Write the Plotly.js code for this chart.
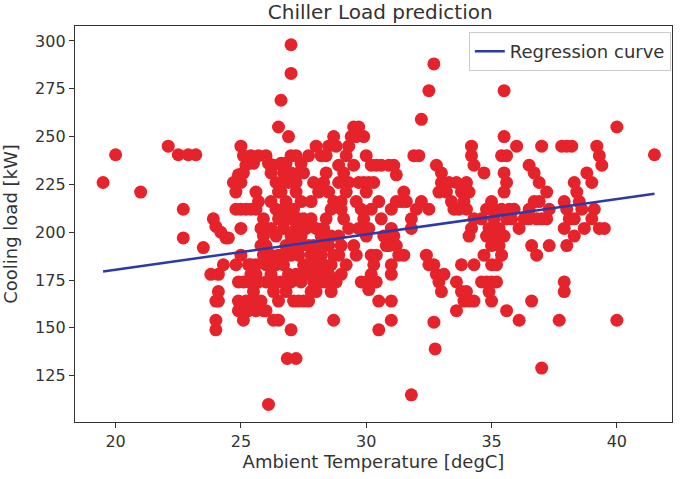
<!DOCTYPE html>
<html>
<head>
<meta charset="utf-8">
<script src="https://cdn.plot.ly/plotly-3.0.1.min.js"></script>
<style>
  html, body { margin: 0; padding: 0; background: #fff; }
  #chart { width: 685px; height: 479px; }
</style>
</head>
<body>
<div id="chart"></div>
<script>
// ambient temperature [degC] and cooling load [kW]
const tempX = [
  19.5, 20.0, 21.0, 22.1, 22.5, 22.9, 23.2, 22.7, 22.7, 23.5,
  23.9, 24.0, 24.2, 24.4, 23.8, 24.1, 24.3, 24.1, 24.0, 24.1, 24.0, 24.0, 24.5,
  25.0, 25.1, 24.9, 25.1, 24.7, 24.8, 25.0, 25.2, 24.8, 25.0, 25.2, 25.0, 24.8, 24.9, 25.1, 24.9, 25.2, 24.9, 25.1, 25.3, 25.0, 25.3, 25.3,
  25.4, 25.5, 25.7, 25.6, 25.7, 25.4, 25.6, 25.9, 25.8, 25.9, 25.6, 25.4, 25.7, 25.5, 25.8, 25.5, 25.6, 25.9, 26.0, 25.9, 25.8, 25.4, 25.6,
  26.0, 26.1, 26.2, 26.4, 26.3, 26.5, 26.2, 26.4, 26.5, 26.2, 26.4, 26.0, 26.2, 26.5, 26.1, 26.4, 26.2, 26.0, 26.4, 26.3, 26.5, 26.0, 26.3, 26.5, 26.1, 26.6, 26.5,
  26.6, 26.8, 27.0, 26.9, 27.0, 27.0, 26.7, 27.0, 26.6, 26.8, 26.7, 27.0, 26.9, 26.7, 27.0, 26.8, 26.6, 27.0, 26.7, 26.9, 26.6, 27.0, 26.8, 27.1, 27.0, 26.85, 27.2, 26.7, 26.9,
  27.2, 27.4, 27.3, 27.5, 27.2, 27.4, 27.1, 27.3, 27.5, 27.2, 27.4, 27.6, 27.2, 27.4, 27.3, 27.5, 27.2, 27.4, 27.6, 27.3, 27.5, 27.2,
  27.7, 27.8, 27.9, 28.1, 27.8, 28.0, 28.2, 27.7, 27.9, 28.1, 27.8, 28.0, 28.2, 27.7, 27.9, 28.1, 27.8, 28.0, 28.2, 27.9, 28.1, 27.8, 28.0, 27.7, 28.0, 28.2, 28.4, 28.5,
  28.4, 28.3, 28.5, 28.7, 28.6, 28.4, 28.3, 28.6, 28.5, 28.7, 28.3, 28.6, 28.5, 28.7, 28.3, 28.6, 28.7, 28.8, 28.7,
  28.9, 29.1, 29.3, 28.9, 29.0, 29.2, 29.0, 29.1, 29.3, 28.9, 29.0, 28.9, 29.2, 29.0, 28.8, 29.3, 29.4, 29.5, 29.6, 29.2,
  29.5, 29.7, 29.9, 30.0, 29.6, 29.8, 29.9, 29.7, 29.5, 29.6, 30.0, 30.1, 29.8, 30.0, 29.7, 29.9, 30.0, 30.1,
  30.2, 30.4, 30.6, 30.3, 30.5, 30.2, 30.6, 30.2, 30.4, 30.3, 30.2, 30.4, 30.5, 30.5, 30.7, 30.8, 30.1,
  30.9, 31.1, 31.2, 31.4, 31.0, 31.2, 31.0, 31.1, 30.9, 31.2, 31.3, 31.0, 31.0, 31.0, 31.0, 31.5, 31.6, 31.8, 31.5,
  31.9, 32.1, 32.2, 32.0, 31.8, 32.2, 32.5, 32.7, 31.8, 32.5, 32.4, 32.5,
  32.8, 33.0, 33.2, 32.9, 33.0, 33.3, 32.7, 32.8, 32.9, 33.0, 33.1, 32.7, 32.75, 33.4, 33.5,
  33.6, 33.8, 34.0, 34.1, 34.2, 34.2, 34.3, 33.7, 33.9, 34.0, 34.3, 34.2, 34.1, 33.8, 34.3, 33.6, 33.8, 33.9, 34.1, 34.3, 33.6, 34.0,
  34.7, 34.6, 34.8, 35.0, 35.1, 34.9, 34.8, 35.0, 34.7, 34.6, 34.8, 35.0, 35.2, 35.0, 35.2, 34.9, 35.0, 35.2, 35.1,
  35.4, 35.6, 35.5, 35.6, 35.5, 35.4, 35.6, 35.3, 35.5, 35.7, 35.9, 35.8, 35.6, 36.1, 35.5, 35.5, 35.3, 35.4,
  36.0, 36.5, 36.7, 36.9, 36.5, 36.7, 36.9, 36.3, 36.5, 36.8, 37.0, 36.6, 36.8, 36.6, 37.0, 37.0, 37.2, 37.3, 37.2, 37.3, 36.1,
  37.8, 38.0, 38.2, 37.9, 38.0, 38.1, 37.9, 38.3, 38.0, 37.9, 37.9, 37.7, 38.3, 38.4, 38.5, 38.6, 38.3,
  38.8, 39.0, 39.2, 39.3, 39.4, 39.1, 39.0, 38.7, 39.3, 39.5,
  40.0, 40.0, 41.5
];
const loadY = [
  226, 240.5, 221, 245, 240.5, 240.5, 240.5, 212, 197, 192,
  207, 203, 200, 197, 178, 178, 183, 169, 164, 164, 154, 149, 197,
  245, 240, 230, 231, 226, 221, 226, 235, 212, 212, 212, 202, 183, 174, 174, 164, 164, 159, 154, 159, 188, 183, 174,
  240, 236, 240, 221, 216, 212, 212, 207, 202, 198, 183, 183, 174, 169, 164, 164, 159, 159, 183, 188, 193, 178, 178,
  240, 236, 231, 226, 235, 221, 216, 212, 207, 202, 198, 193, 188, 188, 183, 183, 178, 174, 174, 169, 164, 159, 154, 154, 110, 269, 255,
  236, 236, 240, 250, 298, 283, 231, 231, 221, 216, 212, 212, 207, 202, 198, 193, 188, 188, 183, 178, 174, 174, 169, 164, 149, 134, 134, 226, 226,
  240, 236, 231, 231, 221, 216, 212, 207, 207, 202, 198, 202, 193, 193, 188, 183, 178, 174, 178, 164, 164, 226,
  240, 216, 226, 221, 207, 202, 198, 193, 193, 193, 188, 188, 188, 183, 183, 183, 178, 178, 178, 174, 174, 169, 169, 164, 245, 240, 240, 245,
  231, 226, 221, 216, 212, 207, 202, 198, 193, 188, 183, 183, 178, 174, 174, 169, 250, 245, 154,
  235, 231, 226, 226, 216, 221, 212, 207, 202, 198, 193, 188, 183, 178, 174, 245, 250, 255, 250, 240,
  235, 226, 226, 221, 216, 212, 207, 202, 193, 188, 198, 202, 174, 174, 255, 250, 240, 226,
  235, 235, 235, 226, 216, 212, 207, 188, 188, 183, 178, 174, 164, 149, 198, 193, 170,
  235, 235, 230, 216, 212, 216, 202, 198, 193, 193, 188, 183, 178, 164, 154, 221, 216, 207, 188,
  240, 240, 216, 212, 202, 259, 274, 288, 115, 212, 188, 183,
  235, 226, 221, 221, 231, 226, 183, 178, 174, 169, 178, 153, 139, 216, 212,
  226, 221, 226, 221, 245, 240, 235, 212, 216, 212, 207, 202, 198, 183, 183, 174, 169, 164, 164, 164, 159, 169,
  231, 207, 212, 216, 212, 202, 198, 193, 188, 174, 174, 174, 174, 183, 183, 169, 164, 198, 207,
  240, 240, 231, 226, 221, 212, 207, 202, 198, 212, 212, 207, 159, 154, 250, 274, 193, 188,
  245, 235, 231, 226, 212, 216, 216, 207, 207, 207, 207, 193, 188, 164, 129, 245, 221, 212, 207, 193, 202,
  245, 245, 245, 216, 212, 207, 202, 198, 193, 174, 169, 154, 226, 221, 216, 212, 207,
  231, 226, 245, 240, 235, 212, 207, 202, 202, 202,
  255, 154, 240.5
];

// regression curve end points as drawn
const regX = [19.5, 41.5];
const regY = [179.5, 220.1];

const xTicks = [20, 25, 30, 35, 40];
const yTicks = [125, 150, 175, 200, 225, 250, 275, 300];

const data = [
  {
    x: tempX,
    y: loadY,
    mode: 'markers',
    type: 'scatter',
    name: 'data',
    showlegend: false,
    marker: { color: '#e6232a', size: 13 },
    hoverinfo: 'x+y'
  },
  {
    x: regX,
    y: regY,
    mode: 'lines',
    type: 'scatter',
    name: 'Regression curve',
    line: { color: '#2b3aa8', width: 2.5 }
  }
];

const axisCommon = {
  showgrid: false,
  zeroline: false,
  showline: true,
  mirror: true,
  linecolor: '#333',
  linewidth: 1.2,
  ticks: 'outside',
  ticklen: 5,
  tickcolor: '#333',
  tickfont: { family: 'DejaVu Sans', size: 16, color: '#333' }
};

const layout = {
  width: 685,
  height: 479,
  margin: { l: 75, r: 13, t: 26, b: 57 },
  paper_bgcolor: '#fff',
  plot_bgcolor: '#fff',
  font: { family: 'DejaVu Sans', color: '#333' },
  title: {
    text: 'Chiller Load prediction',
    font: { family: 'DejaVu Sans', size: 20, color: '#333' },
    x: 0.555,
    xanchor: 'center',
    yref: 'container',
    y: 0.976,
    yanchor: 'middle'
  },
  xaxis: Object.assign({}, axisCommon, {
    range: [18.38, 42.2],
    tickvals: xTicks,
    title: { text: 'Ambient Temperature [degC]', font: { family: 'DejaVu Sans', size: 18, color: '#333' }, standoff: 4 }
  }),
  yaxis: Object.assign({}, axisCommon, {
    range: [100.8, 307.8],
    tickvals: yTicks,
    title: { text: 'Cooling load [kW]', font: { family: 'DejaVu Sans', size: 18, color: '#333' }, standoff: 12 }
  }),
  legend: {
    x: 0.998,
    xanchor: 'right',
    y: 0.985,
    yanchor: 'top',
    bgcolor: 'rgba(255,255,255,0.9)',
    bordercolor: '#cccccc',
    borderwidth: 1,
    font: { family: 'DejaVu Sans', size: 18, color: '#333' }
  }
};

Plotly.newPlot('chart', data, layout, { displayModeBar: false, staticPlot: true });
</script>
</body>
</html>
